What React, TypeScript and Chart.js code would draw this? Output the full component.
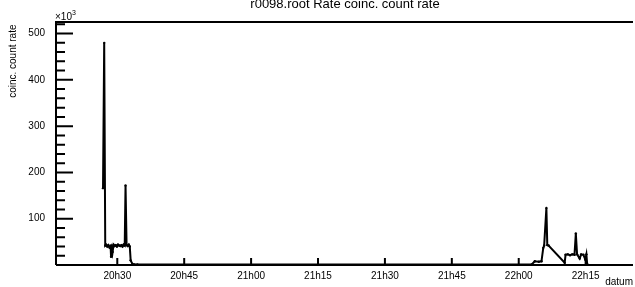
import React, { useEffect, useRef } from "react";
import { Chart, registerables } from "chart.js";

Chart.register(...registerables);

// time stamps (HH:MM:SS) and coinc. count rate (x10^3)
const sampleTimes = [
  "20:26:48", "20:27:04", "20:27:18", "20:27:30", "20:27:45", "20:28:00", "20:28:15", "20:28:30",
  "20:28:36", "20:28:45", "20:28:57", "20:29:10", "20:29:25", "20:29:40", "20:29:55", "20:30:10",
  "20:30:25", "20:30:40", "20:30:55", "20:31:10", "20:31:25", "20:31:40", "20:31:51", "20:32:05",
  "20:32:20", "20:32:35", "20:32:48", "20:33:00", "20:33:25", "20:33:50", "20:34:30",
  "22:02:54", "22:03:36", "22:04:30", "22:05:06", "22:05:30", "22:05:42", "22:06:12", "22:06:24",
  "22:06:42", "22:10:18", "22:10:30", "22:11:00", "22:11:30", "22:12:00", "22:12:30", "22:12:48",
  "22:13:05", "22:13:40", "22:14:00", "22:14:30", "22:14:55", "22:15:10", "22:15:20",
];
const rateValues = [
  166, 480, 42, 44, 40, 43, 38, 41,
  18, 42, 28, 44, 41, 43, 40, 44,
  42, 41, 43, 40, 44, 42, 172, 43,
  41, 44, 40, 10, 2, 1, 1,
  1, 8, 7, 8, 37, 42, 123, 43,
  42, 5, 22, 23, 21, 23, 22, 68,
  23, 14, 23, 22, 12, 23, 3,
];

const xTickMinutes = [1230, 1245, 1260, 1275, 1290, 1305, 1320, 1335];
const xTickLabels = ["20h30", "20h45", "21h00", "21h15", "21h30", "21h45", "22h00", "22h15"];
const yMajorTicks = [100, 200, 300, 400, 500];
const yMinorTicks = [20, 40, 60, 80, 120, 140, 160, 180, 220, 240, 260, 280, 320, 340, 360, 380, 420, 440, 460, 480, 520];

const X_MIN = 1216.26;
const X_MAX = 1345.17;
const Y_MIN = 0;
const Y_MAX = 525;

const TITLE = "r0098.root Rate coinc. count rate";
const Y_TITLE = "coinc. count rate";
const X_TITLE = "datum";

const FONT = "Liberation Sans, Arial, Helvetica, sans-serif";

function toMinutes(t: string): number {
  const [h, m, s] = t.split(":").map(Number);
  return h * 60 + m + s / 60;
}

const rootPlugin = {
  id: "rootFrame",
  afterDraw(chart: any) {
    const { ctx, chartArea } = chart;
    const { left, right, top, bottom } = chartArea;
    const xs = chart.scales.x;
    const ys = chart.scales.y;
    ctx.save();
    ctx.strokeStyle = "#000";
    ctx.lineWidth = 2;
    ctx.beginPath();
    ctx.moveTo(left, bottom);
    ctx.lineTo(left, top);
    ctx.lineTo(right + 2, top);
    ctx.moveTo(left, bottom);
    ctx.lineTo(right + 2, bottom);
    ctx.stroke();

    // y ticks (inside)
    ctx.beginPath();
    yMajorTicks.forEach((v) => {
      const y = ys.getPixelForValue(v);
      ctx.moveTo(left, y);
      ctx.lineTo(left + 17, y);
    });
    yMinorTicks.forEach((v) => {
      const y = ys.getPixelForValue(v);
      ctx.moveTo(left, y);
      ctx.lineTo(left + 9, y);
    });
    // x ticks (inside)
    xTickMinutes.forEach((v) => {
      const x = xs.getPixelForValue(v);
      ctx.moveTo(x, bottom);
      ctx.lineTo(x, bottom - 7);
    });
    ctx.stroke();

    ctx.fillStyle = "#000";
    // title
    ctx.font = `13px ${FONT}`;
    ctx.textAlign = "center";
    ctx.textBaseline = "alphabetic";
    ctx.fillText(TITLE, 345, 8);

    // x axis title
    ctx.font = `10px ${FONT}`;
    ctx.textAlign = "right";
    ctx.fillText(X_TITLE, 633, 285);

    // y axis title
    ctx.save();
    ctx.translate(15.5, 24.5);
    ctx.rotate(-Math.PI / 2);
    ctx.textAlign = "right";
    ctx.fillText(Y_TITLE, 0, 0);
    ctx.restore();

    // exponent
    ctx.textAlign = "left";
    ctx.font = `10px ${FONT}`;
    ctx.fillText("\u00d710", 55, 19.5);
    ctx.font = `7px ${FONT}`;
    ctx.fillText("3", 72, 14.5);
    ctx.restore();
  },
};

export default function App() {
  const canvasRef = useRef<HTMLCanvasElement | null>(null);

  useEffect(() => {
    if (!canvasRef.current) return;
    const points = sampleTimes.map((t, i) => ({ x: toMinutes(t), y: rateValues[i] }));
    const chart = new Chart(canvasRef.current, {
      type: "line",
      data: {
        datasets: [
          {
            data: points,
            borderColor: "#000",
            backgroundColor: "#000",
            borderWidth: 2,
            pointRadius: 1.2,
            pointBackgroundColor: "#000",
            pointBorderWidth: 0,
            tension: 0,
            fill: false,
          },
        ],
      },
      options: {
        responsive: false,
        animation: false,
        events: [],
        layout: { padding: { top: 22, right: 0, left: 0, bottom: 0 } },
        plugins: {
          legend: { display: false },
          tooltip: { enabled: false },
          title: { display: false },
        },
        scales: {
          x: {
            type: "linear",
            min: X_MIN,
            max: X_MAX,
            grid: { display: false, drawTicks: false },
            border: { display: false },
            ticks: {
              color: "#000",
              font: { size: 10, family: FONT },
              padding: 5,
              maxRotation: 0,
              autoSkip: false,
              callback: (value: any) => {
                const idx = xTickMinutes.indexOf(Number(value));
                return idx >= 0 ? xTickLabels[idx] : "";
              },
            },
            afterBuildTicks: (axis: any) => {
              axis.ticks = xTickMinutes.map((v) => ({ value: v }));
            },
            afterFit: (axis: any) => {
              axis.height = 22;
            },
          },
          y: {
            type: "linear",
            min: Y_MIN,
            max: Y_MAX,
            grid: { display: false, drawTicks: false },
            border: { display: false },
            ticks: {
              color: "#000",
              font: { size: 10, family: FONT },
              padding: 11,
              callback: (value: any) => String(value),
            },
            afterBuildTicks: (axis: any) => {
              axis.ticks = yMajorTicks.map((v) => ({ value: v }));
            },
            afterFit: (axis: any) => {
              axis.width = 56;
            },
          },
        },
      },
      plugins: [rootPlugin],
    });
    return () => chart.destroy();
  }, []);

  return (
    <div style={{ position: "fixed", left: 0, top: 0, width: 635, height: 287, background: "#fff" }}>
      <canvas ref={canvasRef} width={635} height={287} style={{ width: 635, height: 287, display: "block" }} />
    </div>
  );
}
